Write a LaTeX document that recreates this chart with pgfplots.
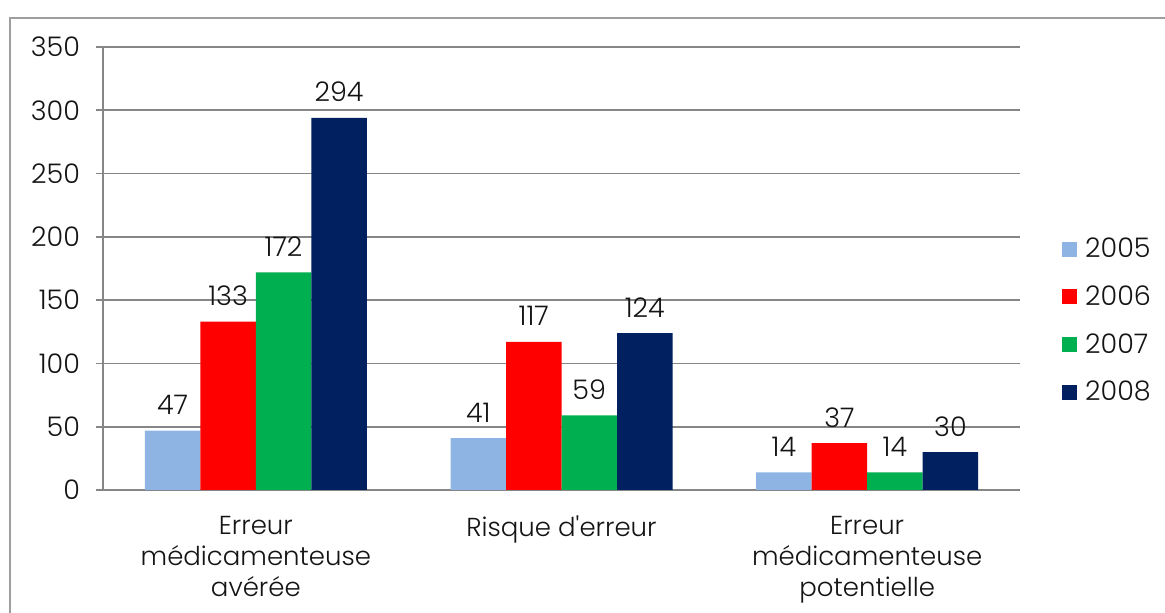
\documentclass[border=0pt]{standalone}
\usepackage{fontspec}
\setmainfont{Poppins}[UprightFont=*-Light]
\usepackage{pgfplots}
\pgfplotsset{compat=1.18}
\definecolor{c2005}{HTML}{8EB4E3}
\definecolor{c2006}{HTML}{FF0000}
\definecolor{c2007}{HTML}{00B050}
\definecolor{c2008}{HTML}{002060}
\definecolor{axgray}{RGB}{134,134,134}
\definecolor{txt}{RGB}{20,20,20}
\begin{document}
\begin{tikzpicture}
\path[use as bounding box] (0,0) rectangle (582.5pt,306.5pt);
\draw[axgray!80, line width=0.8pt] (5pt,-2pt) -- (5pt,297.5pt) -- (590pt,297.5pt);
\begin{axis}[
  at={(51.5pt,61.5pt)}, anchor=south west,
  scale only axis, width=458.5pt, height=221.5pt,
  xmin=-0.5, xmax=2.5, ymin=0, ymax=350,
  ytick={0,50,...,350},
  xtick={0,1,2},
  xticklabels={Erreur\\médicamenteuse\\avérée, Risque d\textquotesingle erreur, Erreur\\médicamenteuse\\potentielle},
  extra x ticks={-0.5,0.5,1.5,2.5},
  extra x tick labels={},
  extra x tick style={major tick length=7pt, xticklabel style={draw=none}},
  axis x line*=bottom, axis y line*=left,
  axis line style={axgray, line width=0.9pt},
  every tick/.style={axgray, line width=0.9pt},
  tick align=outside,
  major tick length=3.5pt,
  x tick style={draw=none},
  extra x tick style={tick style={draw=axgray, line width=0.9pt}},
  ymajorgrids, grid style={axgray, line width=0.9pt},
  ybar=0pt, bar width=27.75pt,
  /pgf/number format/assume math mode=true,
  tick label style={font=\fontsize{13pt}{15.5pt}\selectfont, text=txt},
  xticklabel style={align=center, yshift=-6pt},
  yticklabel style={xshift=-4.5pt, font=\fontsize{13.5pt}{16pt}\selectfont},
  nodes near coords,
  every node near coord/.append style={font=\fontsize{13.5pt}{16pt}\selectfont, text=txt, anchor=base, yshift=8pt},
  legend style={at={(1.039,0.588)}, anchor=north west, draw=none, fill=none,
    font=\fontsize{13.5pt}{16pt}\selectfont, text=txt, row sep=8.5pt,
    /tikz/every odd column/.append style={column sep=0pt}},
  legend cell align=left,
  legend image code/.code={\fill[#1] (0pt,-3.75pt) rectangle (7.5pt,3.75pt);},
  legend style={nodes={inner xsep=4pt}},
]
\addplot[fill=c2005, draw=none] coordinates {(0,47) (1,41) (2,14)};
\addplot[fill=c2006, draw=none] coordinates {(0,133) (1,117) (2,37)};
\addplot[fill=c2007, draw=none] coordinates {(0,172) (1,59) (2,14)};
\addplot[fill=c2008, draw=none] coordinates {(0,294) (1,124) (2,30)};
\legend{2005,2006,2007,2008}
\end{axis}
\end{tikzpicture}
\end{document}
